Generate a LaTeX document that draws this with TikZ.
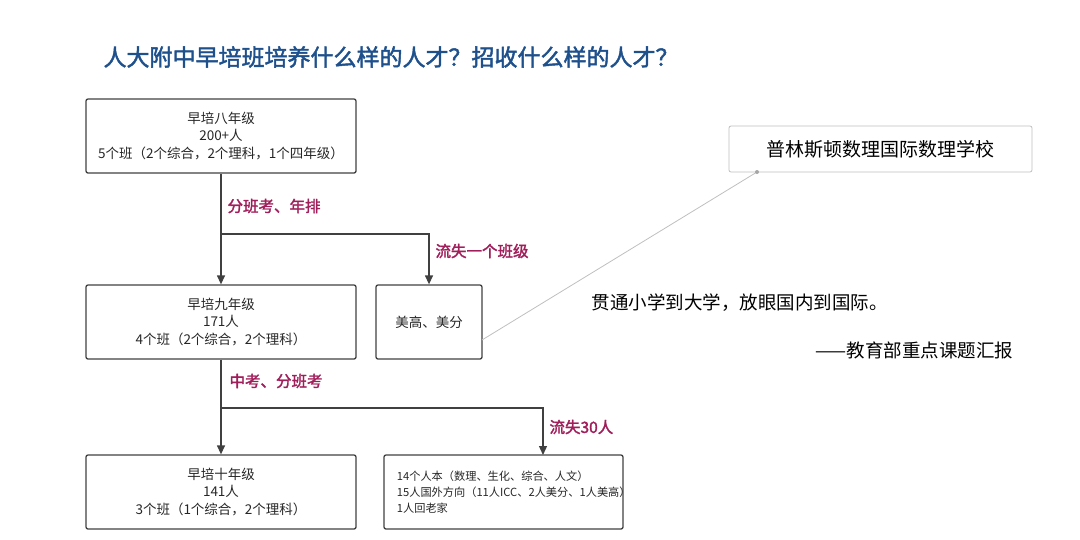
\documentclass[tikz,border=0pt]{standalone}
\usepackage{fontspec}
\setmainfont{Noto Sans CJK SC}
\newfontfamily\cjkb[FakeBold=2]{Noto Sans CJK SC}
\usetikzlibrary{arrows.meta}
\begin{document}
\begin{tikzpicture}[x=1pt,y=-1pt,
  box/.style={draw=black!75,line width=1.3pt,rounded corners=2pt,inner sep=0pt},
  bt/.style={font=\fontsize{13.5}{17.5}\selectfont,text=black!85,align=center},
  lab/.style={font=\cjkb\fontsize{15.5}{18}\selectfont,text={rgb,255:red,160;green,30;blue,90},anchor=west},
  arr/.style={draw=black!75,line width=1.3pt,-{Triangle[length=9pt,width=8pt]}},
  ln/.style={draw=black!75,line width=1.3pt}]
\useasboundingbox (0,0) rectangle (1080,539);
\node[font=\cjkb\fontsize{23}{26}\selectfont,text={rgb,255:red,30;green,80;blue,140},anchor=west] (title) at (100,57) {人大附中早培班培养什么样的人才？招收什么样的人才？};
\node[box,minimum width=270,minimum height=74] (b1) at (221,136) {};
\node[bt] at (b1) {早培八年级\\200+人\\5个班（2个综合，2个理科，1个四年级）};
\node[box,minimum width=270,minimum height=74] (b2) at (221,322) {};
\node[bt] at (b2) {早培九年级\\171人\\4个班（2个综合，2个理科）};
\node[box,minimum width=106,minimum height=74] (b3) at (429,322) {};
\node[bt] at (b3) {美高、美分};
\node[box,minimum width=270,minimum height=74] (b4) at (221,492) {};
\node[bt] at (b4) {早培十年级\\141人\\3个班（1个综合，2个理科）};
\node[box,minimum width=239,minimum height=74] (b5) at (503.5,492) {};
\node[bt,font=\fontsize{11.2}{16}\selectfont,align=left,anchor=west] at (b5.west) [xshift=10pt] {14个人本（数理、生化、综合、人文）\\15人国外方向（11人ICC、2人美分、1人美高）\\1人回老家};
\node[draw=black!25,line width=0.8pt,rounded corners=2pt,minimum width=303,minimum height=46,font=\fontsize{19}{22}\selectfont] (pr) at (880.5,149) {普林斯顿数理国际数理学校};
\coordinate (j1) at (221,234);
\coordinate (j2) at (221,408);
\draw[ln] (b1.south) -- (j1);
\draw[arr] (j1) -- (b2.north);
\draw[arr] (j1) -| (b3.north);
\draw[ln] (b2.south) -- (j2);
\draw[arr] (j2) -- (b4.north);
\draw[arr] (j2) -| (543,455);
\node[lab] (l1) at (224,206) {分班考、年排};
\node[lab] (l2) at (432,251) {流失一个班级};
\node[lab] (l3) at (226,381) {中考、分班考};
\node[lab] (l4) at (546,427) {流失30人};
\coordinate (dot) at (757,172);
\draw[black!25,line width=0.8pt] (482,340) -- (dot);
\fill[black!35] (dot) circle (2pt);
\node[font=\fontsize{18.5}{22}\selectfont,anchor=west] (q1) at (588,303) {贯通小学到大学，放眼国内到国际。};
\node[font=\fontsize{18.5}{22}\selectfont,anchor=east] (q2) at (1017,350) {——教育部重点课题汇报};
\end{tikzpicture}
\end{document}
